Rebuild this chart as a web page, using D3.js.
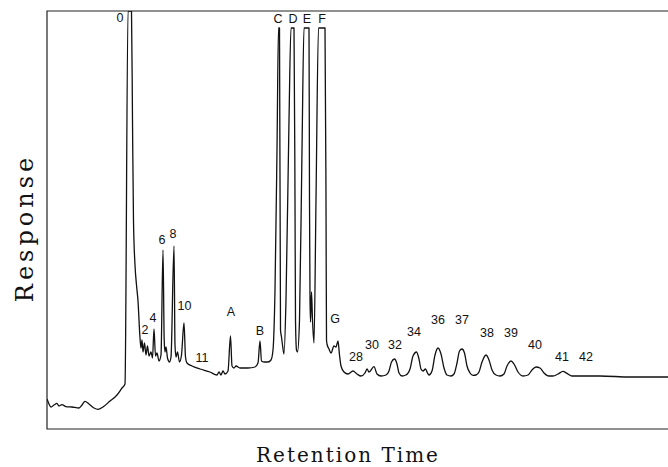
<!DOCTYPE html>
<html>
<head>
<meta charset="utf-8">
<script src="https://d3js.org/d3.v7.min.js"></script>
<style>
  body { margin: 0; background: #fff; }
</style>
</head>
<body>
<script>
'use strict'

var w = 668;
var h = 467;

// trace (retention time, response)
var traceTime = [0, 0.2, 0.4, 0.7, 1.0, 1.2, 1.5, 1.9, 2.5, 3.2, 3.5, 3.8, 4.2, 4.7, 5.1, 5.6, 6.3, 7.0, 7.5, 7.8,
  8.1, 8.45, 8.55, 8.65, 8.8, 8.95, 9.1, 9.3,
  9.4, 9.5, 9.6, 9.75, 9.9, 10.05, 10.2, 10.4, 10.55, 10.7, 10.85, 11.0, 11.2, 11.4,
  11.6, 11.72, 11.8, 11.9, 12.05, 12.25, 12.4, 12.7, 12.8, 12.9, 13.05, 13.25, 13.45,
  13.7, 13.85, 14.0, 14.5, 15.3, 16.3, 17.0, 17.2, 17.4, 17.6, 17.8, 18.1,
  18.35, 18.5, 18.7, 18.9, 19.3, 20.1, 20.8, 21.1, 21.3, 21.45, 21.7, 22.1, 22.4, 22.6,
  22.8, 23.0, 23.15, 23.25, 23.35, 23.45, 23.55, 23.7,
  23.9, 24.2, 24.4, 24.7, 24.8, 24.85, 24.95, 25.05,
  25.25, 25.5, 25.7, 26.2, 26.25, 26.3, 26.35, 26.45, 26.55, 26.7,
  26.9, 27.15, 27.8, 27.9, 27.95, 28.0, 28.2, 28.4, 28.7, 28.9, 29.1, 29.25, 29.4, 29.7, 30.1,
  30.6, 31.0, 31.4, 31.8, 32.0, 32.2, 32.7, 33.0, 33.4, 33.9, 34.2, 34.45,
  34.75, 35.0, 35.2, 35.5, 35.9, 36.3, 36.6, 36.95, 37.2, 37.4, 37.6, 37.85, 38.05, 38.2, 38.5, 38.8,
  39.1, 39.4, 39.7, 40.0, 40.4, 40.7, 41.0, 41.25, 41.5, 41.75, 42.0, 42.3, 42.6, 42.9, 43.2, 43.5,
  43.9, 44.2, 44.5, 44.9, 45.3, 45.7, 46.0, 46.4, 46.7, 47.1, 47.6, 48.1, 48.5,
  48.9, 49.3, 49.7, 50.2, 50.6, 51.1, 51.6, 52.0, 52.5, 53.3, 55.3, 58.3, 62.1];

var traceResp = [7.5, 6.25, 5.5, 6, 6.4, 5.75, 6.1, 5.6, 5.5, 5.25, 6, 6.9, 6.25, 5.25, 4.9, 5.5, 7, 8.5, 10.25, 11.25,
  104.5, 104.5, 77, 52, 41, 36, 32, 22.75,
  20.25, 22.25, 19.25, 21.5, 18.5, 20.75, 18.25, 19.25, 17.75, 25, 18.25, 19, 17, 18.5,
  44.75, 22.25, 19.25, 20.5, 17.75, 16.75, 18, 45.75, 21, 18, 19.25, 16.75, 18.5,
  26.5, 18, 16.5, 15.75, 15, 14.25, 13.5, 14.25, 13.5, 14.5, 13.75, 14.5,
  23.25, 15.75, 15.25, 15.75, 15.25, 15.25, 15.5, 16.5, 22, 17, 16.75, 16.75, 17.25, 19.75,
  34.75, 69.75, 100.25, 100.25, 24.75, 23, 21, 18.75,
  32.25, 77.25, 100.25, 100.25, 57.25, 27.25, 19.75, 19.25,
  27.25, 69.75, 100.25, 100.25, 57.25, 33, 26.75, 34.25, 27.25, 21.5,
  57.25, 100.25, 100.25, 57.25, 22.25, 21.25, 20, 19, 20.75, 20.5, 22, 18.5, 15.75, 14.25, 13.75,
  14.5, 13.75, 13.25, 14, 15, 14.25, 15.6, 13.75, 13.25, 13.5, 14.5, 16.75,
  17.5, 16.25, 14, 13.25, 13.5, 15, 18.25, 19.25, 17.5, 15, 14.5, 15, 14, 13.5, 14.5, 18.5,
  20.25, 18.75, 15.25, 13.5, 13.25, 13.75, 16.5, 19.5, 20, 19, 15.75, 14, 13.4, 13.5, 14.25, 16.75,
  18.5, 17.25, 14.75, 13.5, 13.25, 13.75, 15.75, 17, 16.25, 14.25, 13.25, 13.5, 14.75,
  15.5, 15.25, 14, 13.25, 13.25, 13.75, 14.4, 13.9, 13.25, 13.25, 13.25, 13, 13];

// peak labels and where they sit
var peakNames = ["0", "2", "4", "6", "8", "10", "11", "A", "B", "C", "D", "E", "F", "G",
  "28", "30", "32", "34", "36", "37", "38", "39", "40", "41", "42"];
var peakTime = [7.3, 9.8, 10.6, 11.5, 12.6, 13.75, 15.5, 18.4, 21.3, 23.1, 24.6, 26.0, 27.5, 28.8,
  30.9, 32.5, 34.8, 36.7, 39.1, 41.5, 44.0, 46.4, 48.8, 51.5, 53.9];
var peakResp = [101.75, 23.75, 26.75, 46.25, 47.75, 29.75, 16.75, 28.25, 23.5, 101.5, 101.5, 101.5, 101.5, 26.5,
  17, 20, 20, 23.25, 26.25, 26.25, 23, 23, 20, 17, 17];

var margin = {top: 11, right: 0, bottom: 38, left: 47};
var iw = w - margin.left - margin.right;
var ih = h - margin.top - margin.bottom;

var x = d3.scaleLinear().domain([0, 62.1]).range([0, iw]);
var y = d3.scaleLinear().domain([0, 104.5]).range([ih, 0]);

var svg = d3.select("body")
  .append("svg")
  .attr("width", w)
  .attr("height", h);

var g = svg.append("g")
  .attr("transform", "translate(" + margin.left + "," + margin.top + ")");

g.append("clipPath")
  .attr("id", "plot")
  .append("rect")
  .attr("width", iw)
  .attr("height", ih);

// frame: left, top, bottom
g.append("path")
  .attr("d", "M" + iw + ",0H0V" + ih + "H" + iw)
  .attr("fill", "none")
  .attr("stroke", "#222")
  .attr("stroke-width", 1.2);

var points = traceTime.map(function(t, i) { return [t, traceResp[i]]; });

var line = d3.line()
  .x(function(d) { return x(d[0]); })
  .y(function(d) { return y(d[1]); })
  .curve(d3.curveMonotoneX);

g.append("path")
  .datum(points)
  .attr("clip-path", "url(#plot)")
  .attr("d", line)
  .attr("fill", "none")
  .attr("stroke", "#111")
  .attr("stroke-width", 1.3)
  .attr("stroke-linejoin", "round");

//Peak labels
g.selectAll("text.peak")
  .data(peakNames)
  .enter()
  .append("text")
  .attr("class", "peak")
  .attr("x", function(d, i) { return x(peakTime[i]); })
  .attr("y", function(d, i) { return y(peakResp[i]); })
  .attr("text-anchor", "middle")
  .text(function(d) { return d; })
  .style("font-family", "'Liberation Sans', Arial, sans-serif")
  .style("font-size", "12.5px")
  .style("fill", "#111");

//Axis titles
svg.append("text")
  .attr("x", 348)
  .attr("y", 462)
  .attr("text-anchor", "middle")
  .text("Retention Time")
  .style("font-family", "'DejaVu Serif', serif")
  .style("font-size", "20px")
  .style("letter-spacing", "2px")
  .style("fill", "#111");

svg.append("text")
  .attr("transform", "translate(33," + 228 + ") rotate(-90)")
  .attr("text-anchor", "middle")
  .text("Response")
  .style("font-family", "'DejaVu Serif', serif")
  .style("font-size", "24px")
  .style("letter-spacing", "4px")
  .style("fill", "#111");
</script>
</body>
</html>
